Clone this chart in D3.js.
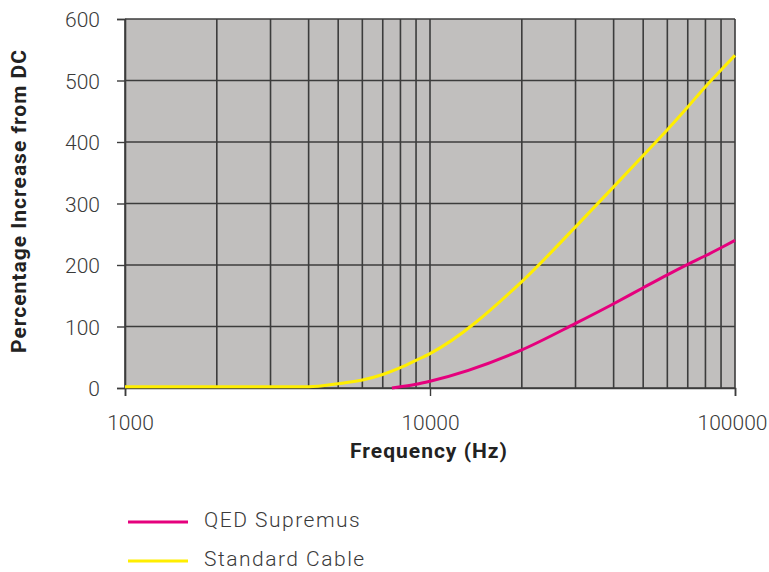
<!DOCTYPE html>
<html>
<head>
<meta charset="utf-8">
<script src="https://cdn.jsdelivr.net/npm/d3@7"></script>
<style>
  body { margin: 0; background: #fff; }
  text { font-family: Roboto, "DejaVu Sans", sans-serif; }
</style>
</head>
<body>
<svg width="769" height="572"></svg>
<script>
// Chart data
const freqTicks = [1000, 10000, 100000];
const gridFreqs = [1000, 2000, 3000, 4000, 5000, 6000, 7000, 8000, 9000,
                   10000, 20000, 30000, 40000, 50000, 60000, 70000, 80000, 90000, 100000];
const valueTicks = [0, 100, 200, 300, 400, 500, 600];

const qedFreq = [7500, 8000, 9000, 10000, 20000, 30000, 40000, 50000, 60000, 70000, 80000, 90000, 100000];
const qedValues = [0, 2, 6, 11, 62, 105, 137, 163, 184, 201, 215, 228, 240];

const stdFreq = [1000, 2000, 3000, 4000, 5000, 6000, 7000, 8000, 9000,
                 10000, 20000, 30000, 40000, 50000, 60000, 70000, 80000, 90000, 100000];
const stdValues = [2, 2, 2, 2, 7, 13, 22, 33, 45, 56, 173, 262, 327, 378, 420, 457, 490, 517, 541];

const seriesNames = ["QED Supremus", "Standard Cable"];
const seriesColors = ["#e5007d", "#ffee00"];

const plotLeft = 125, plotRight = 735, plotTop = 19, plotBottom = 388;
const svg = d3.select("svg");

const x = d3.scaleLog().domain([1000, 100000]).range([plotLeft, plotRight]);
const y = d3.scaleLinear().domain([0, 600]).range([plotBottom, plotTop]);

// Plot background
svg.append("rect")
    .attr("x", plotLeft).attr("y", plotTop)
    .attr("width", plotRight - plotLeft).attr("height", plotBottom - plotTop)
    .attr("fill", "#c1bfbe");

// Vertical grid lines
svg.append("g")
  .selectAll("line")
  .data(gridFreqs)
  .enter()
  .append("line")
    .attr("x1", d => x(d)).attr("x2", d => x(d))
    .attr("y1", plotTop).attr("y2", plotBottom)
    .attr("stroke", "#3c3c3c")
    .attr("stroke-width", 1.6);

// Horizontal grid lines
svg.append("g")
  .selectAll("line")
  .data(valueTicks)
  .enter()
  .append("line")
    .attr("x1", plotLeft).attr("x2", plotRight)
    .attr("y1", d => y(d)).attr("y2", d => y(d))
    .attr("stroke", "#3c3c3c")
    .attr("stroke-width", 1.6);

// Y axis
const yAxis = d3.axisLeft(y).tickValues(valueTicks).tickSize(8).tickPadding(17);
const gy = svg.append("g")
    .attr("transform", `translate(${plotLeft},0)`)
    .call(yAxis);
gy.select(".domain").attr("stroke", "#3c3c3c").attr("stroke-width", 1.6);
gy.selectAll(".tick line").attr("stroke", "#3c3c3c").attr("stroke-width", 1.4);
gy.selectAll(".tick text")
    .attr("fill", "#3a3a3a")
    .style("font-size", "21px")
    .style("font-weight", "300")
    .attr("dy", "0.36em");

// X axis
const xAxis = d3.axisBottom(x).tickValues(freqTicks).tickFormat(d3.format("d")).tickSize(8).tickPadding(19);
const gx = svg.append("g")
    .attr("transform", `translate(0,${plotBottom})`)
    .call(xAxis);
gx.select(".domain").attr("stroke", "#3c3c3c").attr("stroke-width", 1.6);
gx.selectAll(".tick line").attr("stroke", "#3c3c3c").attr("stroke-width", 1.4);
gx.selectAll(".tick text")
    .attr("fill", "#3a3a3a")
    .style("font-size", "21px")
    .style("font-weight", "300")
    .attr("dx", (d, i) => i === 0 ? 5 : (i === freqTicks.length - 1 ? -3 : 0));

// Curves
const line = d3.line()
    .x(d => x(d[0]))
    .y(d => y(d[1]))
    .curve(d3.curveMonotoneX);

const series = [d3.zip(qedFreq, qedValues), d3.zip(stdFreq, stdValues)];

svg.append("g")
  .selectAll("path")
  .data(series)
  .enter()
  .append("path")
    .attr("d", line)
    .attr("fill", "none")
    .attr("stroke", (d, i) => seriesColors[i])
    .attr("stroke-width", 3);

// X axis title
svg.append("text")
    .text("Frequency (Hz)")
    .attr("x", 429)
    .attr("y", 458)
    .style("text-anchor", "middle")
    .style("font-size", "21px")
    .style("font-weight", "bold")
    .style("letter-spacing", "1px")
    .attr("fill", "#222");

// Y axis title
svg.append("text")
    .text("Percentage Increase from DC")
    .attr("transform", "translate(26,201) rotate(-90)")
    .style("text-anchor", "middle")
    .style("font-size", "21px")
    .style("font-weight", "bold")
    .style("letter-spacing", "1px")
    .attr("fill", "#222");

// Legend
const legend = svg.append("g")
  .selectAll("g")
  .data(seriesNames)
  .enter()
  .append("g")
    .attr("transform", (d, i) => `translate(128,${522 + i * 39})`);

legend.append("line")
    .attr("x1", 0).attr("x2", 60)
    .attr("y1", 0).attr("y2", 0)
    .attr("stroke", (d, i) => seriesColors[i])
    .attr("stroke-width", 3);

legend.append("text")
    .text(d => d)
    .attr("x", 76)
    .attr("dy", 5)
    .style("font-size", "21px")
    .style("font-weight", "300")
    .style("letter-spacing", "1.5px")
    .attr("fill", "#3a3a3a");
</script>
</body>
</html>
